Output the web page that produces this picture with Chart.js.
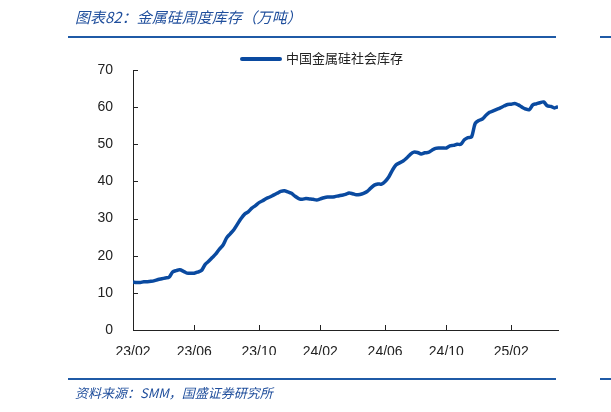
<!DOCTYPE html>
<html><head><meta charset="utf-8">
<script src="https://cdn.jsdelivr.net/npm/chart.js@4.4.0/dist/chart.umd.min.js"></script>
<style>
body{margin:0;background:#fff;}
#wrap{position:relative;width:611px;height:412px;font-family:"Noto Sans CJK SC",sans-serif;}
canvas{position:absolute;left:0;top:0;}
.title{position:absolute;left:75px;top:6px;font-size:15px;font-style:italic;color:#1f4e9c;}
.hr{position:absolute;height:2px;background:#1f5aa6;}
.legend{position:absolute;left:240px;top:48px;font-size:13px;color:#222;}
.legend i{display:inline-block;width:42px;height:4px;background:#0a4aa0;vertical-align:middle;margin-right:4px;border-radius:2px;}
.src{position:absolute;left:75px;top:383px;font-size:13px;font-style:italic;color:#1f4e9c;}
</style></head><body>
<div id="wrap">
<canvas id="c" width="611" height="412"></canvas>
<div class="title">图表82：金属硅周度库存（万吨）</div>
<div class="hr" style="left:68px;top:36px;width:488px"></div>
<div class="hr" style="left:600px;top:36px;width:11px"></div>
<div class="legend"><i></i>中国金属硅社会库存</div>
<div class="hr" style="left:68px;top:378px;width:488px"></div>
<div class="hr" style="left:600px;top:378px;width:11px"></div>
<div class="src">资料来源：SMM，国盛证券研究所</div>
</div>
<script>
// 周度数据，起始 2023-02-03
const startDate = '2023-02-03';
const tickLabels = ['23/02', '23/06', '23/10', '24/02', '24/06', '24/10', '25/02'];
const yTicks = [0, 10, 20, 30, 40, 50, 60, 70];
const stock = [
  12.9, 12.8, 12.8, 13.0, 13.0, 13.1, 13.3, 13.6, 13.8, 14.0,
  14.2, 15.6, 16.0, 16.2, 15.8, 15.3, 15.3, 15.3, 15.6, 16.0,
  17.6, 18.5, 19.5, 20.5, 21.8, 22.9, 24.8, 25.9, 27.0, 28.5,
  30.0, 31.2, 31.8, 32.8, 33.5, 34.3, 34.8, 35.4, 35.8, 36.3,
  36.8, 37.3, 37.5, 37.2, 36.8, 36.0, 35.4, 35.2, 35.4, 35.3,
  35.2, 35.0, 35.3, 35.6, 35.8, 35.8, 35.9, 36.1, 36.3, 36.5,
  36.9, 36.7, 36.4, 36.5, 36.8, 37.3, 38.2, 39.0, 39.3, 39.3,
  40.0, 41.2, 43.0, 44.4, 45.0, 45.5, 46.3, 47.3, 47.9, 47.8,
  47.4, 47.7, 47.8, 48.4, 48.9, 49.0, 49.0, 49.0, 49.6, 49.7,
  50.0, 50.0, 51.2, 51.8, 52.0, 55.6, 56.4, 56.8, 57.8, 58.6,
  59.0, 59.4, 59.8, 60.3, 60.7, 60.8, 61.0, 60.6, 60.0, 59.5,
  59.3, 60.6, 60.9, 61.2, 61.4, 60.4, 60.2, 59.8, 60.1
];

const t0 = new Date(startDate + 'T00:00:00Z');
function weekLabel(i) {
  const d = new Date(t0.getTime() + i * 7 * 86400000);
  return String(d.getUTCFullYear()).slice(2) + '/' + String(d.getUTCMonth() + 1).padStart(2, '0');
}
const points = stock.map((v, i) => ({ x: i, y: v }));
// 每个刻度标签对应的第一周
const tickWeeks = tickLabels.map(l => stock.findIndex((_, i) => weekLabel(i) === l));

const tickMarks = {
  id: 'tickMarks',
  afterDraw(chart) {
    const { ctx, chartArea: a, scales: { x, y } } = chart;
    ctx.save();
    ctx.strokeStyle = '#222';
    ctx.lineWidth = 1;
    ctx.beginPath();
    yTicks.forEach(v => { const p = Math.round(y.getPixelForValue(v)) + 0.5; ctx.moveTo(a.left, p); ctx.lineTo(a.left + 5, p); });
    tickWeeks.forEach(w => { const p = Math.round(x.getPixelForValue(w)) + 0.5; ctx.moveTo(p, a.bottom); ctx.lineTo(p, a.bottom - 5); });
    ctx.stroke();
    ctx.restore();
  }
};

new Chart(document.getElementById('c'), {
  type: 'line',
  data: { datasets: [{ data: points, borderColor: '#0a4aa0', borderWidth: 3.5, pointRadius: 0, tension: 0.3 }] },
  options: {
    responsive: false,
    animation: false,
    layout: { padding: { left: 93, top: 70, right: 53, bottom: 57 } },
    plugins: { legend: { display: false }, tooltip: { enabled: false } },
    scales: {
      x: {
        type: 'linear', min: 0, max: stock.length - 1,
        afterBuildTicks: s => { s.ticks = tickWeeks.map(v => ({ value: v })); },
        afterFit: s => { s.height = 25; },
        grid: { display: false },
        border: { color: '#222', width: 1 },
        ticks: { autoSkip: false, maxRotation: 0, color: '#222', font: { size: 14, family: 'Arial, Liberation Sans' }, padding: 6,
          callback: v => tickLabels[tickWeeks.indexOf(v)] }
      },
      y: {
        min: 0, max: 70,
        afterBuildTicks: s => { s.ticks = yTicks.map(v => ({ value: v })); },
        afterFit: s => { s.width = 40; },
        grid: { display: false },
        border: { color: '#222', width: 1 },
        ticks: { color: '#222', font: { size: 14, family: 'Arial, Liberation Sans' }, padding: 12 }
      }
    }
  },
  plugins: [tickMarks]
});
</script>
</body></html>
